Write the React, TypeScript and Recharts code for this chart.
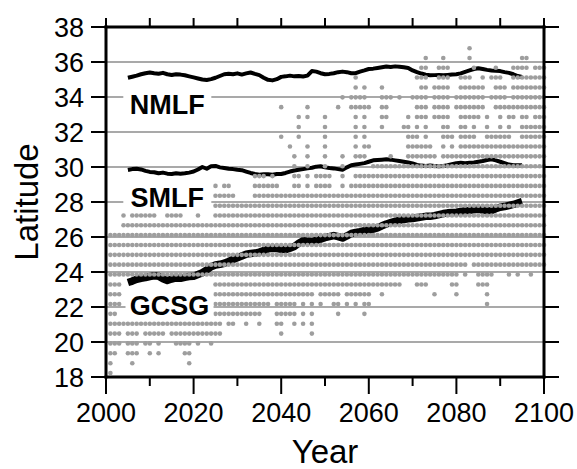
import {
  CartesianGrid,
  ComposedChart,
  Line,
  ReferenceDot,
  Scatter,
  XAxis,
  YAxis,
} from 'recharts'

const FONT = '"Liberation Sans", Arial, Helvetica, sans-serif'

const xTicks = [2000, 2010, 2020, 2030, 2040, 2050, 2060, 2070, 2080, 2090, 2100]
const xLabelTicks = [2000, 2020, 2040, 2060, 2080, 2100]
const yTicks = [18, 20, 22, 24, 26, 28, 30, 32, 34, 36, 38]

// latitude of each row of grey dots, bottom to top
const rowLats = [
  18.23, 18.79, 19.36, 19.92, 20.48, 21.04, 21.61, 22.17, 22.73, 23.29, 23.86,
  24.42, 24.98, 25.54, 26.11, 26.67, 27.23, 27.79, 28.36, 28.92, 29.48, 30.04,
  30.61, 31.17, 31.73, 32.29, 32.86, 33.42, 33.98, 34.54, 35.11, 35.67, 36.23,
  36.79,
]

// years that have a dot, row by row (same order as rowLats)
const rowYears = [
  '2001',
  '2001,2006,2019',
  '2001-2002,2005-2007,2010,2012,2018-2019',
  '2001-2003,2005-2007,2009-2010,2012,2016-2019,2021,2024',
  '2001-2003,2005-2007,2009-2013,2015-2026,2040,2047',
  '2001-2026,2028-2029,2032,2035,2039-2040,2043,2045,2047',
  '2001-2002,2025-2035,2039-2043,2045,2047,2053,2059',
  '2001-2003,2025-2037,2039-2043,2045,2047,2049,2052-2053,2055,2057,2059-2060,2087',
  '2001-2003,2025-2047,2049-2053,2055-2060,2063,2075,2080,2087',
  '2001-2003,2025-2067,2071-2073,2079-2080,2085-2087',
  '2001-2080,2082,2085-2088,2092,2094,2097',
  '2001-2082,2084-2100',
  '2001-2100',
  '2001-2100',
  '2001-2100',
  '2004-2100',
  '2004,2006-2011,2014-2017,2021,2025-2100',
  '2025-2100',
  '2025-2029,2034-2100',
  '2025,2027-2028,2034-2039,2043-2044,2046,2048-2051,2054,2056-2100',
  '2034-2036,2038,2043-2044,2046,2048-2051,2054,2057-2100',
  '2043,2046,2050,2054,2061-2100',
  '2043,2046,2050,2054,2057-2059,2065,2069-2075,2077-2100',
  '2042,2046,2050,2057,2059-2060,2069-2074,2077,2079,2081-2100',
  '2040,2044,2050,2057,2059,2069-2071,2073,2077-2079,2081-2084,2087-2092,2095-2100',
  '2044,2050,2057,2059,2063,2068-2069,2071,2073,2077-2078,2081-2082,2084,2087,2090,2092,2095-2100',
  '2044,2046,2050,2057,2059,2063-2064,2069,2071-2073,2075-2078,2081-2085,2087,2090,2092-2093,2095-2096,2098-2100',
  '2040,2046,2053,2056-2060,2063-2064,2071-2073,2075-2078,2080-2086,2089-2100',
  '2054,2056-2059,2063-2065,2067,2070-2073,2075-2078,2080-2086,2088-2091,2093-2100',
  '2057,2059,2063,2072-2073,2075-2078,2081-2086,2089-2091,2093-2100',
  '2057,2071-2073,2076-2078,2081-2083,2086,2088-2090,2093-2100',
  '2072-2073,2076-2078,2084,2089,2093-2096,2098-2100',
  '2073,2077,2083,2095-2096',
  '2083',
]

// front lines, one value per year from 2005 to 2095
const firstLineYear = 2005
const nmlf = [
  35.1, 35.16, 35.22, 35.3, 35.36, 35.4, 35.36, 35.33, 35.38, 35.3, 35.26,
  35.3, 35.28, 35.24, 35.18, 35.12, 35.06, 35.0, 34.97, 35.02, 35.1, 35.2,
  35.3, 35.33, 35.3, 35.35, 35.28, 35.35, 35.4, 35.32, 35.25, 35.1, 34.98,
  34.95, 35.02, 35.15, 35.18, 35.22, 35.18, 35.2, 35.17, 35.22, 35.48, 35.45,
  35.36, 35.3, 35.32, 35.36, 35.42, 35.45, 35.42, 35.36, 35.36, 35.45, 35.52,
  35.6, 35.62, 35.66, 35.7, 35.74, 35.72, 35.75, 35.73, 35.7, 35.66, 35.52,
  35.42, 35.34, 35.28, 35.24, 35.25, 35.26, 35.24, 35.26, 35.28, 35.3, 35.35,
  35.44, 35.52, 35.6, 35.64, 35.6, 35.55, 35.52, 35.5, 35.48, 35.42, 35.38,
  35.3, 35.2, 35.14,
]
const smlf = [
  29.83, 29.88, 29.9, 29.86, 29.78, 29.72, 29.7, 29.64, 29.68, 29.62, 29.6,
  29.64, 29.62, 29.64, 29.68, 29.74, 29.86, 30.0, 29.9, 30.04, 30.06, 29.98,
  29.94, 29.9, 29.88, 29.84, 29.82, 29.74, 29.66, 29.6, 29.56, 29.58, 29.58,
  29.56, 29.6, 29.6, 29.66, 29.74, 29.8, 29.84, 29.88, 29.92, 29.96, 30.02,
  30.04, 29.98, 29.94, 29.92, 29.88, 29.84, 29.98, 30.1, 30.14, 30.18, 30.22,
  30.3, 30.38, 30.4, 30.42, 30.44, 30.42, 30.38, 30.34, 30.3, 30.26, 30.2,
  30.12, 30.08, 30.06, 30.08, 30.06, 30.04, 30.06, 30.1, 30.16, 30.22, 30.24,
  30.22, 30.24, 30.26, 30.3, 30.34, 30.4, 30.44, 30.38, 30.3, 30.22, 30.14,
  30.1, 30.1, 30.1,
]
const gcsg = [
  23.4, 23.48, 23.58, 23.64, 23.68, 23.74, 23.78, 23.76, 23.62, 23.52, 23.6,
  23.66, 23.64, 23.7, 23.74, 23.76, 23.86, 23.96, 24.12, 24.3, 24.4, 24.44,
  24.5, 24.6, 24.72, 24.82, 24.92, 25.02, 25.06, 25.08, 25.14, 25.22, 25.32,
  25.36, 25.34, 25.3, 25.28, 25.36, 25.46, 25.64, 25.78, 25.76, 25.74, 25.8,
  25.88, 25.96, 26.02, 26.08, 26.02, 25.94, 26.06, 26.2, 26.26, 26.3, 26.36,
  26.4, 26.44, 26.52, 26.64, 26.74, 26.82, 26.9, 26.96, 27.0, 27.04, 27.06,
  27.1, 27.14, 27.18, 27.18, 27.22, 27.28, 27.34, 27.38, 27.4, 27.42, 27.46,
  27.5, 27.52, 27.56, 27.58, 27.54, 27.5, 27.52, 27.62, 27.7, 27.74, 27.8,
  27.86, 27.94, 28.02,
]

const lineLabels = [
  { text: 'NMLF', x: 2014, y: 34, base: 17, top: 7, bottom: 21 },
  { text: 'SMLF', x: 2014, y: 28, base: 5, top: 19, bottom: 9 },
  { text: 'GCSG', x: 2014.5, y: 22, base: 8, top: 16, bottom: 12 },
]

// layout
const W = 577
const H = 469
const margin = { top: 27, right: 33, bottom: 0, left: 0 }
const yAxisWidth = 106
const xAxisHeight = 92
const plotW = W - margin.left - margin.right - yAxisWidth
const plotH = H - margin.top - margin.bottom - xAxisHeight

const parseYears = (s: string) =>
  s.split(',').flatMap((part) => {
    const [a, b] = part.split('-').map(Number)
    if (!b) return [a]
    const out: number[] = []
    for (let yr = a; yr <= b; yr++) out.push(yr)
    return out
  })

const dots = rowYears.flatMap((s, i) =>
  parseYears(s).map((yr) => ({ x: yr, y: rowLats[i] }))
)

const toSeries = (vals: number[]) =>
  vals.map((v, i) => ({ x: firstLineYear + i, y: v }))

// bottom ticks also draw the matching top tick, and the last one the right edge
const BottomTick = ({ x, y, payload }: any) => {
  const major = xLabelTicks.includes(payload.value)
  const last = payload.value === xTicks[xTicks.length - 1]
  return (
    <g>
      <line x1={x} x2={x} y1={y} y2={y + (major ? 17 : 9)} stroke="#000" strokeWidth={2} />
      <line x1={x} x2={x} y1={y - plotH} y2={y - plotH - 9} stroke="#000" strokeWidth={2} />
      {last && (
        <line x1={x} x2={x} y1={y + 1.5} y2={y - plotH - 1.5} stroke="#000" strokeWidth={3} />
      )}
      {major && (
        <text x={x} y={y + 45} textAnchor="middle" fontSize={27} fontFamily={FONT} fill="#000">
          {payload.value}
        </text>
      )}
    </g>
  )
}

// left ticks also draw the matching right tick, and the top one the top edge
const LeftTick = ({ x, y, payload }: any) => {
  const top = payload.value === yTicks[yTicks.length - 1]
  return (
    <g>
      <line x1={x - 15} x2={x} y1={y} y2={y} stroke="#000" strokeWidth={2} />
      <line x1={x + plotW} x2={x + plotW + 15} y1={y} y2={y} stroke="#000" strokeWidth={2} />
      {top && (
        <line x1={x - 1.5} x2={x + plotW + 1.5} y1={y} y2={y} stroke="#000" strokeWidth={3} />
      )}
      <text x={x - 22} y={y + 10} textAnchor="end" fontSize={27} fontFamily={FONT} fill="#000">
        {payload.value}
      </text>
    </g>
  )
}

const YearTitle = (props: any) => {
  const vb = props.viewBox
  return (
    <text x={vb.x + vb.width / 2} y={vb.y + vb.height - 6} textAnchor="middle" fontSize={33} fontFamily={FONT} fill="#000">
      Year
    </text>
  )
}

const LatTitle = (props: any) => {
  const vb = props.viewBox
  const cx = vb.x + 38
  const cy = vb.y + vb.height / 2
  return (
    <text x={cx} y={cy} transform={`rotate(-90 ${cx} ${cy})`} textAnchor="middle" fontSize={33} fontFamily={FONT} fill="#000">
      Latitude
    </text>
  )
}

const axisLine = { stroke: '#000', strokeWidth: 3, strokeLinecap: 'square' as const }

export default function App() {
  return (
    <div style={{ position: 'absolute', left: 0, top: 0, background: '#fff' }}>
      <ComposedChart width={W} height={H} margin={margin}>
        <CartesianGrid vertical={false} stroke="#8c8c8c" strokeWidth={1.5} />
        <XAxis
          type="number"
          dataKey="x"
          domain={[2000, 2100]}
          ticks={xTicks}
          interval={0}
          height={xAxisHeight}
          axisLine={axisLine}
          tickLine={false}
          tickSize={0}
          tickMargin={0}
          tick={BottomTick}
          label={YearTitle}
        />
        <YAxis
          type="number"
          dataKey="y"
          domain={[18, 38]}
          ticks={yTicks}
          interval={0}
          width={yAxisWidth}
          axisLine={axisLine}
          tickLine={false}
          tickSize={0}
          tickMargin={0}
          tick={LeftTick}
          label={LatTitle}
        />
        <Scatter
          data={dots}
          isAnimationActive={false}
          shape={(p: any) => <circle cx={p.cx} cy={p.cy} r={2.3} fill="#9e9e9e" />}
        />
        <Line data={toSeries(nmlf)} dataKey="y" stroke="#000" strokeWidth={4} dot={false} strokeLinejoin="round" isAnimationActive={false} />
        <Line data={toSeries(smlf)} dataKey="y" stroke="#000" strokeWidth={4} dot={false} strokeLinejoin="round" isAnimationActive={false} />
        <Line data={toSeries(gcsg)} dataKey="y" stroke="#000" strokeWidth={7.5} dot={false} strokeLinejoin="round" isAnimationActive={false} />
        {lineLabels.map((l) => (
          <ReferenceDot
            key={l.text}
            x={l.x}
            y={l.y}
            r={0}
            shape={(p: any) => (
              <g>
                <rect x={p.cx - 44} y={p.cy - l.top} width={88} height={l.top + l.bottom} fill="#fff" />
                <text x={p.cx} y={p.cy + l.base} textAnchor="middle" fontSize={27} fontWeight="bold" fontFamily={FONT} fill="#000">
                  {l.text}
                </text>
              </g>
            )}
          />
        ))}
      </ComposedChart>
    </div>
  )
}
